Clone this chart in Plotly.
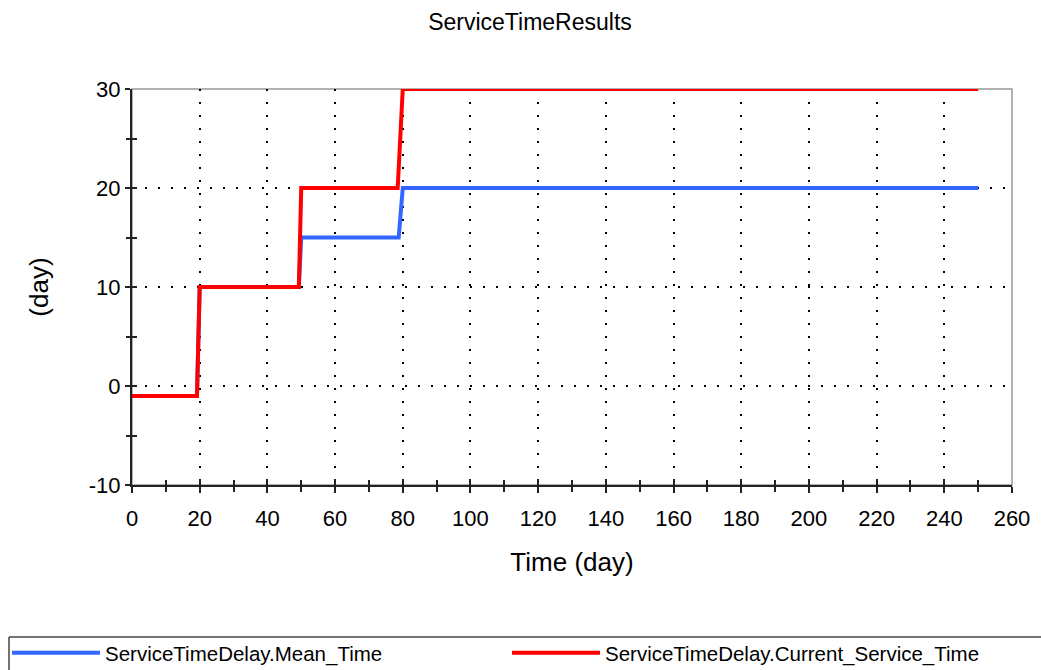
import plotly.graph_objects as go

# ---- data ----
time_mean = [0, 19.2, 20, 49.3, 50, 78.8, 80, 250]
mean_time = [-1, -1, 10, 10, 15, 15, 20, 20]
time_cur = [0, 19.2, 20, 49.3, 50, 78.5, 80, 250]
current_service_time = [-1, -1, 10, 10, 20, 20, 30, 30]

x_ticks = list(range(0, 261, 20))
y_ticks = [-10, 0, 10, 20, 30]
y_tick_labels = ["-10", "0", "10", "20", "30"]

FONT = "Liberation Sans, Arial, sans-serif"
OFF = 0  # page body margin is removed below
W, H = 1041, 670
# plot area in window pixels: left 132, right 1012, top 89, bottom 485
L, T = 132 - OFF, 89 - OFF
R, B = W - (1012 - OFF), H - (485 - OFF)
PW, PH = W - L - R, H - T - B


def px(xw):
    return (xw - OFF - L) / PW


def py(yw):
    return (H - B - (yw - OFF)) / PH


fig = go.Figure()
fig.add_trace(go.Scatter(x=time_mean, y=mean_time, mode="lines",
                         name="ServiceTimeDelay.Mean_Time",
                         line=dict(color="#3366FF", width=4)))
fig.add_trace(go.Scatter(x=time_cur, y=current_service_time, mode="lines",
                         name="ServiceTimeDelay.Current_Service_Time",
                         line=dict(color="#FF0000", width=4)))

grid = dict(showgrid=True, gridcolor="black", gridwidth=2, griddash="2px,11px")

fig.update_layout(
    width=W, height=H,
    margin=dict(l=L, r=R, t=T, b=B, autoexpand=False),
    paper_bgcolor="white", plot_bgcolor="white",
    font=dict(family=FONT, size=22, color="black"),
    title=dict(text="ServiceTimeResults", x=(530 - OFF) / W, xanchor="center",
               xref="container", y=1 - (22 - OFF) / H, yanchor="middle",
               font=dict(size=23, family=FONT)),
    xaxis=dict(range=[0, 260], tickvals=x_ticks, **grid, zeroline=False,
               showline=True, linecolor="#222", linewidth=2,
               ticks="outside", ticklen=6, tickcolor="#222", tickwidth=1.5,
               ticklabelstandoff=7,
               minor=dict(dtick=10, ticks="outside", ticklen=5, tickcolor="#222",
                          tickwidth=1.5, showgrid=False),
               title=dict(text="Time (day)", standoff=22),
               automargin=False),
    yaxis=dict(range=[-10, 30], tickvals=y_ticks, ticktext=y_tick_labels, **grid,
               zeroline=False, showline=True, linecolor="#222", linewidth=2,
               ticks="outside", ticklen=5, tickcolor="#222", tickwidth=1.5,
               minor=dict(dtick=5, ticks="outside", ticklen=4, tickcolor="#222",
                          tickwidth=1.5, showgrid=False),
               title=dict(text="(day)", standoff=33),
               automargin=False),
    xaxis2=dict(range=[0, 260], overlaying="x", anchor="y", side="bottom",
                tickvals=x_ticks, ticks="inside", ticklen=6, tickcolor="#222",
                tickwidth=1.5, showticklabels=False, showgrid=False, zeroline=False,
                minor=dict(dtick=10, ticks="inside", ticklen=5, tickcolor="#222",
                           tickwidth=1.5, showgrid=False)),
    yaxis2=dict(range=[-10, 30], overlaying="y", anchor="x", side="left",
                tickvals=y_ticks, ticks="inside", ticklen=5, tickcolor="#222",
                tickwidth=1.5, showticklabels=False, showgrid=False, zeroline=False,
                minor=dict(dtick=5, ticks="inside", ticklen=5, tickcolor="#222",
                           tickwidth=1.5, showgrid=False)),
    showlegend=True,
    legend=dict(orientation="h", x=px(7), xanchor="left", y=py(633), yanchor="top",
                font=dict(size=20.5, family=FONT), itemwidth=88,
                entrywidth=397, entrywidthmode="pixels", maxheight=1,
                bgcolor="rgba(0,0,0,0)", borderwidth=0),
    shapes=[
        dict(type="rect", xref="paper", yref="paper", x0=0, x1=1, y0=0, y1=1,
             line=dict(color="#999", width=1.5), layer="below"),
        dict(type="line", xref="paper", yref="paper", x0=px(9), x1=px(1100),
             y0=py(637), y1=py(637), line=dict(color="#444", width=1.5), layer="above"),
        dict(type="line", xref="paper", yref="paper", x0=px(9), x1=px(9),
             y0=py(637), y1=py(720), line=dict(color="#444", width=1.5), layer="above"),
    ],
)
# invisible anchor trace so the overlay axes render their inward ticks
fig.add_trace(go.Scatter(x=[], y=[], xaxis="x2", yaxis="y2", showlegend=False,
                         hoverinfo="skip"))

fig.write_html("out.html",
               config={"displayModeBar": False},
               post_script="document.body.style.margin='0';"
                           "document.body.style.overflow='hidden';")
